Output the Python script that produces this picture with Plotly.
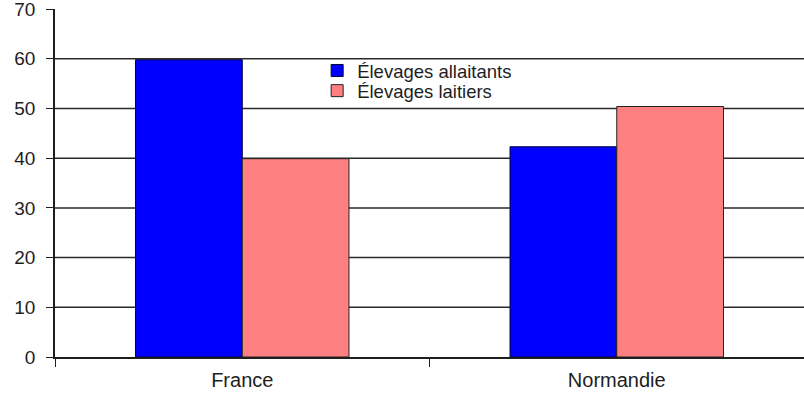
import plotly.graph_objects as go

categories = ["France", "Normandie"]
allaitants = [59.8, 42.3]
laitiers = [39.9, 50.4]
series_names = ["Élevages allaitants", "Élevages laitiers"]
y_ticks = [0, 10, 20, 30, 40, 50, 60, 70]
grid_values = [10, 20, 30, 40, 50, 60]

FONT = "Liberation Sans, Arial, sans-serif"
INK = "#1e1e1e"

fig = go.Figure()
fig.add_trace(go.Bar(
    x=categories, y=allaitants, name=series_names[0], legend="legend",
    marker=dict(color="#0000FF", line=dict(color="#000033", width=1)),
))
fig.add_trace(go.Bar(
    x=categories, y=laitiers, name=series_names[1], legend="legend2",
    marker=dict(color="#FF8080", line=dict(color="#222222", width=1)),
))

for v in grid_values:
    fig.add_hline(y=v, line=dict(color="#2a2a2a", width=1.5), layer="below")

leg_common = dict(
    xanchor="left", yanchor="middle",
    bgcolor="rgba(255,255,255,0)", borderwidth=0,
    font=dict(size=18.5, color=INK, family=FONT),
    itemwidth=30,
)

fig.update_layout(
    width=804, height=394,
    margin=dict(l=55, r=0, t=9, b=37),
    paper_bgcolor="white", plot_bgcolor="white",
    barmode="group", bargap=0.43, bargroupgap=0,
    font=dict(family=FONT, size=19, color=INK),
    showlegend=True,
    legend=dict(x=0.35, y=0.822, **leg_common),
    legend2=dict(x=0.35, y=0.764, **leg_common),
    xaxis=dict(
        type="category", tickson="boundaries",
        showline=True, linecolor=INK, linewidth=1.5,
        ticks="outside", ticklen=8, tickcolor=INK, tickwidth=1,
        showgrid=False, zeroline=False,
        ticklabelstandoff=4,
        tickfont=dict(size=20, color=INK),
    ),
    yaxis=dict(
        range=[0, 70.02], tickvals=y_ticks,
        showline=True, linecolor=INK, linewidth=1.5,
        ticks="outside", ticklen=7, tickcolor=INK, tickwidth=1,
        showgrid=False, zeroline=False,
        ticklabelstandoff=7, ticklabeloverflow="allow",
        tickfont=dict(size=19, color=INK),
    ),
)

fig.write_html("out.html")
